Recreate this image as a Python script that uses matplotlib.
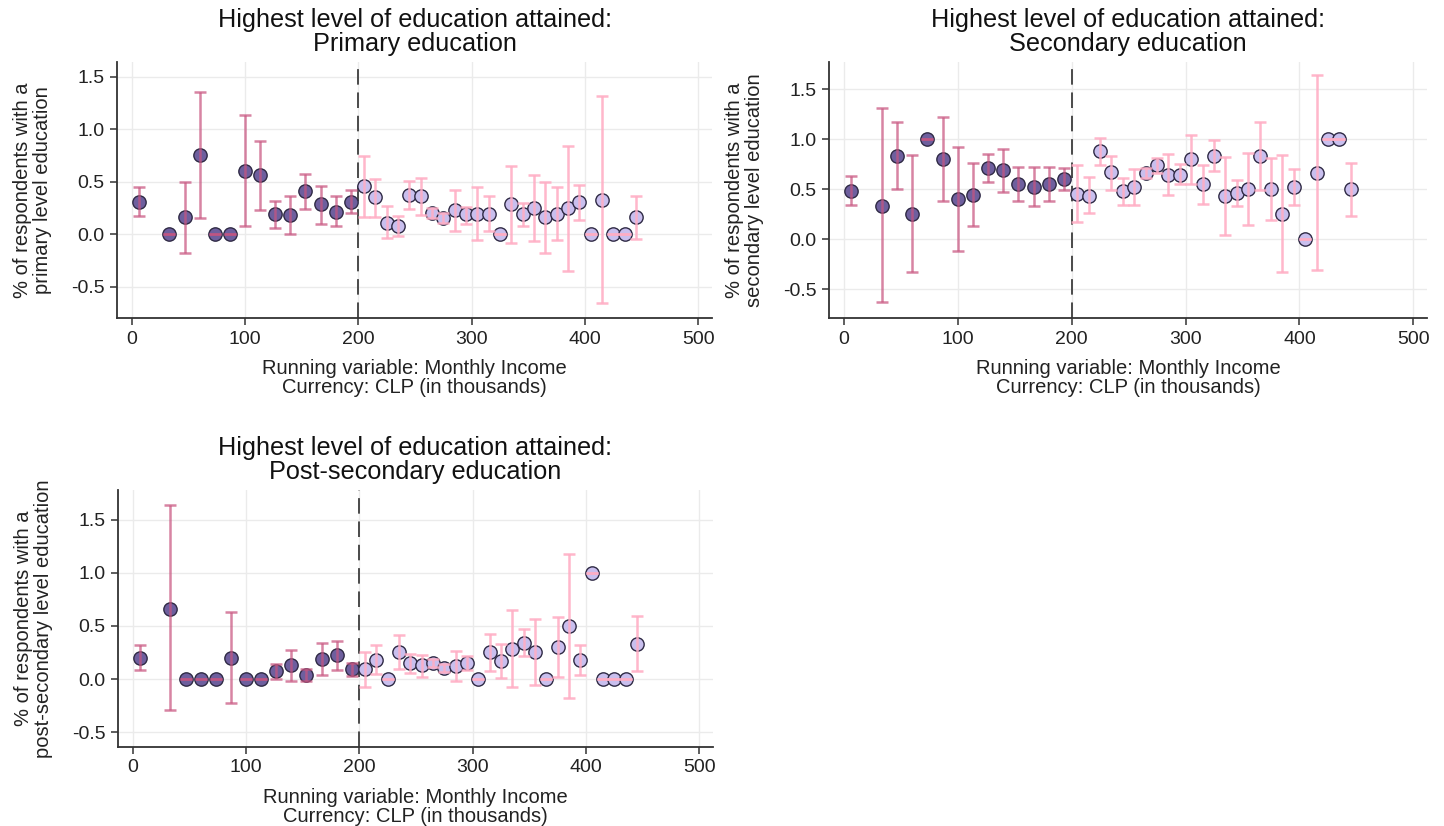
import matplotlib
matplotlib.use("Agg")
import matplotlib.pyplot as plt
from matplotlib.ticker import FixedLocator, FuncFormatter

plt.rcParams['font.family'] = ['Liberation Sans', 'DejaVu Sans']
plt.rcParams['axes.unicode_minus'] = False

# ---- bin centres (running variable, CLP thousands) ----
left_x = [6.7, 33.3, 46.7, 60.0, 73.3, 86.7, 100.0, 113.3, 126.7, 140.0, 153.3, 166.7, 180.0, 193.3]
right_x = [205, 215, 225, 235, 245, 255, 265, 275, 285, 295, 305, 315, 325,
           335, 345, 355, 365, 375, 385, 395, 405, 415, 425, 435, 445]

# ---- Panel 1: primary education ----
p1_left_y = [0.31, 0.0, 0.16, 0.75, 0.0, 0.0, 0.60, 0.56, 0.19, 0.18, 0.41, 0.285, 0.215, 0.31]
p1_left_lo = [0.176, 0.0, -0.18, 0.157, 0.0, 0.0, 0.077, 0.225, 0.06, 0.0, 0.24, 0.10, 0.08, 0.20]
p1_left_hi = [0.445, 0.0, 0.50, 1.35, 0.0, 0.0, 1.135, 0.888, 0.317, 0.365, 0.577, 0.46, 0.365, 0.42]
p1_right_y = [0.455, 0.35, 0.109, 0.08, 0.375, 0.36, 0.20, 0.154, 0.23, 0.19, 0.19, 0.19, 0.0,
              0.285, 0.19, 0.253, 0.167, 0.19, 0.253, 0.305, 0.0, 0.327, 0.0, 0.0, 0.167]
p1_right_lo = [0.167, 0.167, -0.04, -0.02, 0.24, 0.18, 0.15, 0.11, 0.03, 0.10, -0.06, 0.03, 0.0,
               -0.083, 0.08, -0.067, -0.18, -0.058, -0.35, 0.135, 0.0, -0.657, 0.0, 0.0, -0.05]
p1_right_hi = [0.744, 0.526, 0.263, 0.173, 0.503, 0.53, 0.25, 0.20, 0.42, 0.26, 0.445, 0.36, 0.0,
               0.647, 0.30, 0.56, 0.497, 0.445, 0.84, 0.47, 0.0, 1.32, 0.0, 0.0, 0.365]

# ---- Panel 2: secondary education ----
p2_left_y = [0.485, 0.334, 0.83, 0.25, 1.0, 0.796, 0.40, 0.445, 0.709, 0.686, 0.552, 0.525, 0.552, 0.605]
p2_left_lo = [0.344, -0.632, 0.50, -0.33, 1.0, 0.378, -0.117, 0.127, 0.575, 0.475, 0.385, 0.334, 0.385, 0.495]
p2_left_hi = [0.635, 1.308, 1.167, 0.84, 1.0, 1.224, 0.92, 0.76, 0.846, 0.896, 0.72, 0.72, 0.72, 0.71]
p2_right_y = [0.45, 0.435, 0.88, 0.666, 0.478, 0.518, 0.662, 0.736, 0.645, 0.645, 0.80, 0.55, 0.826,
              0.428, 0.46, 0.505, 0.826, 0.498, 0.25, 0.518, 0.0, 0.66, 1.0, 1.0, 0.498]
p2_right_lo = [0.17, 0.26, 0.74, 0.495, 0.34, 0.344, 0.61, 0.66, 0.438, 0.555, 0.555, 0.355, 0.68,
               0.037, 0.328, 0.144, 0.488, 0.194, -0.33, 0.34, 0.0, -0.31, 1.0, 1.0, 0.234]
p2_right_hi = [0.74, 0.62, 1.01, 0.83, 0.61, 0.696, 0.71, 0.806, 0.85, 0.746, 1.037, 0.74, 0.987,
               0.823, 0.595, 0.856, 1.167, 0.806, 0.836, 0.70, 0.0, 1.64, 1.0, 1.0, 0.76]

# ---- Panel 3: post-secondary education ----
p3_left_y = [0.20, 0.663, 0.0, 0.0, 0.0, 0.20, 0.0, 0.0, 0.072, 0.129, 0.04, 0.185, 0.226, 0.09]
p3_left_lo = [0.082, -0.295, 0.0, 0.0, 0.0, -0.223, 0.0, 0.0, 0.0, -0.02, -0.02, 0.04, 0.082, 0.025]
p3_left_hi = [0.32, 1.636, 0.0, 0.0, 0.0, 0.628, 0.0, 0.0, 0.144, 0.276, 0.097, 0.339, 0.36, 0.154]
p3_right_y = [0.09, 0.176, 0.0, 0.25, 0.15, 0.129, 0.15, 0.104, 0.122, 0.15, 0.0, 0.254, 0.166,
              0.286, 0.342, 0.254, 0.0, 0.301, 0.50, 0.176, 1.0, 0.0, 0.0, 0.0, 0.333]
p3_right_lo = [-0.075, 0.044, 0.0, 0.097, 0.057, 0.02, 0.11, 0.07, -0.02, 0.082, 0.0, 0.075, 0.013,
               -0.075, 0.217, -0.06, 0.0, 0.02, -0.176, 0.04, 1.0, 0.0, 0.0, 0.0, 0.075]
p3_right_hi = [0.254, 0.317, 0.0, 0.41, 0.24, 0.23, 0.19, 0.14, 0.26, 0.213, 0.0, 0.427, 0.333,
               0.653, 0.474, 0.562, 0.0, 0.584, 1.18, 0.317, 1.0, 0.0, 0.0, 0.0, 0.59]

titles = ["Highest level of education attained:\nPrimary education",
          "Highest level of education attained:\nSecondary education",
          "Highest level of education attained:\nPost-secondary education"]
ylabels = ["% of respondents with a\nprimary level education",
           "% of respondents with a\nsecondary level education",
           "% of respondents with a\npost-secondary level education"]
xlabel = "Running variable: Monthly Income\nCurrency: CLP (in thousands)"
xticks = [0, 100, 200, 300, 400, 500]
yticks = [-0.5, 0.0, 0.5, 1.0, 1.5]
cutoff = 200

W, H = 1444, 826
fig = plt.figure(figsize=(W / 100, H / 100), dpi=100)

# axes rectangles in pixels: left, right, top, bottom
boxes = [(117, 712, 62, 318), (829, 1427, 62, 318), (118, 713, 490, 747)]
ylims = [(-0.80, 1.64), (-0.79, 1.77), (-0.64, 1.78)]
data = [
    (p1_left_y, p1_left_lo, p1_left_hi, p1_right_y, p1_right_lo, p1_right_hi),
    (p2_left_y, p2_left_lo, p2_left_hi, p2_right_y, p2_right_lo, p2_right_hi),
    (p3_left_y, p3_left_lo, p3_left_hi, p3_right_y, p3_right_lo, p3_right_hi),
]

LEFT_FACE = "#6e5f9e"
RIGHT_FACE = "#c9bfee"
EDGE = "#2f2a45"
LEFT_BAR = "#c85580"
RIGHT_BAR = "#ffadc4"

for i in range(3):
    l, r, t, b = boxes[i]
    ax = fig.add_axes([l / W, 1 - b / H, (r - l) / W, (b - t) / H])
    ly, llo, lhi, ry, rlo, rhi = data[i]

    ax.scatter(left_x, ly, s=92, facecolor=LEFT_FACE, edgecolor=EDGE, linewidth=1.0, zorder=3)
    ax.scatter(right_x, ry, s=92, facecolor=RIGHT_FACE, edgecolor=EDGE, linewidth=1.0, zorder=3)

    lerr = [[y - lo for y, lo in zip(ly, llo)], [hi - y for y, hi in zip(ly, lhi)]]
    rerr = [[y - lo for y, lo in zip(ry, rlo)], [hi - y for y, hi in zip(ry, rhi)]]
    ax.errorbar(left_x, ly, yerr=lerr, fmt='none', ecolor=LEFT_BAR, elinewidth=1.8,
                capsize=4.3, capthick=1.8, alpha=0.72, zorder=4)
    ax.errorbar(right_x, ry, yerr=rerr, fmt='none', ecolor=RIGHT_BAR, elinewidth=1.8,
                capsize=4.3, capthick=1.8, alpha=0.88, zorder=4)

    ax.axvline(cutoff, color="#4a4a4a", linestyle=(0, (8, 4)), linewidth=1.4, zorder=2)

    ax.set_xlim(-13, 512)
    ax.set_ylim(*ylims[i])
    ax.xaxis.set_major_locator(FixedLocator(xticks))
    ax.yaxis.set_major_locator(FixedLocator(yticks))
    ax.yaxis.set_major_formatter(FuncFormatter(lambda v, p: f"{v:.1f}"))
    ax.grid(True, color="#ebebeb", linewidth=1.0, zorder=0)
    ax.set_axisbelow(True)
    for s in ["top", "right"]:
        ax.spines[s].set_visible(False)
    for s in ["left", "bottom"]:
        ax.spines[s].set_color("#333333")
        ax.spines[s].set_linewidth(1.3)
    ax.tick_params(axis='both', direction='out', length=5, width=1.1, color="#333333",
                   labelsize=14, labelcolor="#222222", pad=4)

    ax.set_title(titles[i], fontsize=18.2, color="#111111", pad=8, linespacing=1.0)
    ax.set_xlabel(xlabel, fontsize=14.5, color="#222222", labelpad=8, linespacing=1.05)
    ax.set_ylabel(ylabels[i], fontsize=14.5, color="#222222", linespacing=1.05)
    ax.yaxis.set_label_coords(-65 / (r - l), 0.5)

fig.savefig("out.png", dpi=100)
